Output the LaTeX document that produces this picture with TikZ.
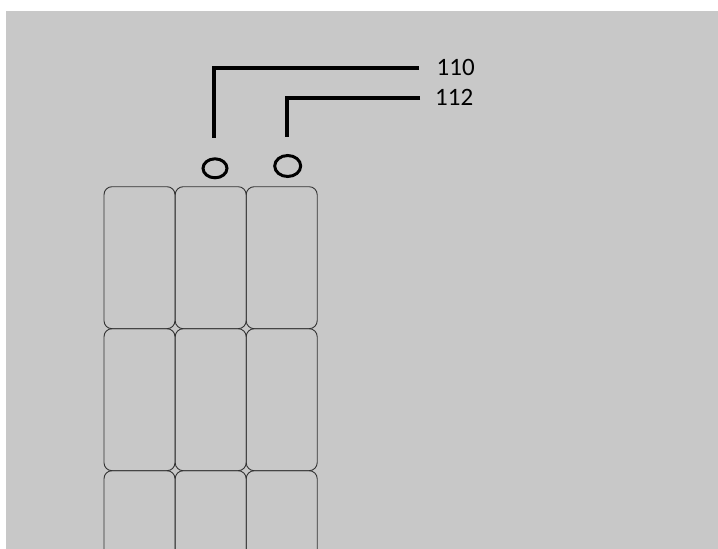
\documentclass[tikz,border=0pt]{standalone}
\usepackage{fontspec}
\setmainfont{Carlito}
\usetikzlibrary{shapes.geometric}
\definecolor{bg}{HTML}{C8C8C8}
\begin{document}
\begin{tikzpicture}[x=1pt,y=-1pt,
  cell/.style={draw=black!80,line width=0.9pt,rounded corners=8pt,minimum width=71pt,minimum height=142pt,inner sep=0pt},
  port/.style={draw=black,ellipse,line width=3pt,inner sep=0pt},
  leader/.style={draw=black,line width=4pt},
  ref/.style={font=\fontsize{25}{26}\selectfont,anchor=west,inner sep=0pt}]
\useasboundingbox (0,0) rectangle (718,549);
\fill[white] (0,0) rectangle (718,549);
\fill[bg] (6,11) rectangle (718,549);
\begin{scope}
\clip (6,11) rectangle (718,549);
\foreach \r/\yy in {1/257.7,2/399.7,3/541.7}{
  \foreach \c/\xx in {1/139.5,2/210.7,3/281.7}{
    \node[cell] (c\r\c) at (\xx,\yy) {};
  }
}
\end{scope}
\node[port,minimum width=24pt,minimum height=19pt] (p1) at (215,168.3) {};
\node[port,minimum width=26pt,minimum height=21pt] (p2) at (287.7,166) {};
\node[ref] (l110) at (436.5,67) {110};
\node[ref] (l112) at (435,97) {112};
\coordinate (a1) at (214,138);
\coordinate (a2) at (286.7,137);
\coordinate (e1) at (419,68.3);
\coordinate (e2) at (420,98.3);
\draw[leader] (e1) -| (a1);
\draw[leader] (e2) -| (a2);
\end{tikzpicture}
\end{document}
